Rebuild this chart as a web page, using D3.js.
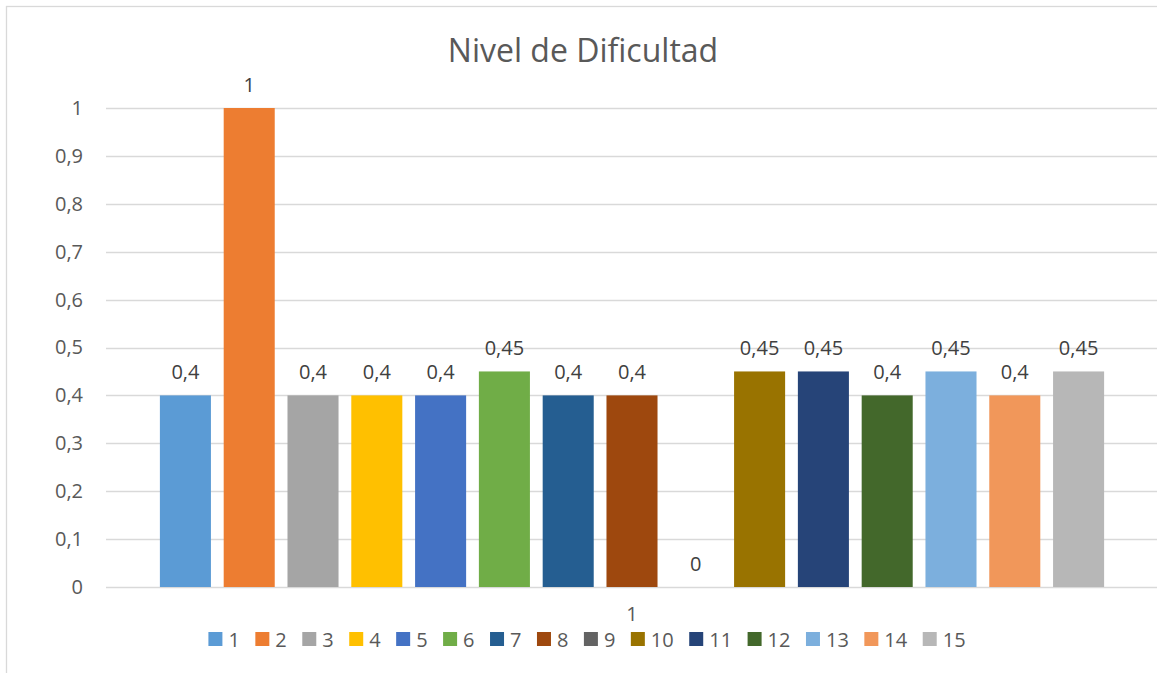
<!DOCTYPE html>
<html>
<head>
<meta charset="UTF-8">
<style>
  * { margin: 0; padding: 0; }
  html, body { width: 1157px; height: 673px; background: #fff; overflow: hidden; }
  svg { display: block; font-family: "Open Sans", "Noto Sans", sans-serif; }
</style>
<script src="https://cdn.jsdelivr.net/npm/d3@7"></script>
</head>
<body>
<svg id="chart" width="1157" height="673"></svg>
<script>
// --- data ---
var title = "Nivel de Dificultad";
var categories = ["1"];
var seriesNames = ["1", "2", "3", "4", "5", "6", "7", "8", "9", "10", "11", "12", "13", "14", "15"];
var seriesValues = [0.4, 1, 0.4, 0.4, 0.4, 0.45, 0.4, 0.4, 0, 0.45, 0.45, 0.4, 0.45, 0.4, 0.45];
var seriesColors = ["#5B9BD5", "#ED7D31", "#A5A5A5", "#FFC000", "#4472C4", "#70AD47", "#255E91",
  "#9E480E", "#636363", "#997300", "#264478", "#43682B", "#7CAFDD", "#F1975A", "#B7B7B7"];
var yTicks = [0, 0.1, 0.2, 0.3, 0.4, 0.5, 0.6, 0.7, 0.8, 0.9, 1];

var svg = d3.select("#chart");
var fmt = function(v) { return String(v).replace(".", ","); };

// chart border (cut by the window on right/bottom)
svg.append("rect")
  .attr("x", 6.5).attr("y", 6.5).attr("width", 1170).attr("height", 700)
  .attr("fill", "#fff").attr("stroke", "#D9D9D9").attr("stroke-width", 1.3);

var plot = { left: 106, right: 1158, top: 108, bottom: 587 };

var y = d3.scaleLinear().domain([0, 1]).range([plot.bottom, plot.top]);
var x0 = d3.scaleBand().domain(categories).range([plot.left, plot.right]).padding(0.0473);
var x1 = d3.scaleBand().domain(seriesNames).range([0, x0.bandwidth()])
  .paddingInner(0.2).paddingOuter(0.1);

// title
svg.append("text")
  .attr("x", 583).attr("y", 62)
  .attr("text-anchor", "middle")
  .attr("font-size", "32px")
  .attr("fill", "#595959")
  .text(title);

// gridlines
svg.append("g").selectAll("line")
  .data(yTicks)
  .enter().append("line")
  .attr("x1", plot.left).attr("x2", plot.right)
  .attr("y1", function(d) { return Math.round(y(d)) + 0.5; })
  .attr("y2", function(d) { return Math.round(y(d)) + 0.5; })
  .attr("stroke", "#D9D9D9")
  .attr("stroke-width", function(d) { return d === 0 ? 1.6 : 1.3; });

// y tick labels
var yAxis = d3.axisLeft(y).tickValues(yTicks).tickSize(0).tickPadding(0).tickFormat(fmt);
var yg = svg.append("g").attr("transform", "translate(83,0)").call(yAxis);
yg.select(".domain").remove();
yg.selectAll("text")
  .attr("font-family", "'Open Sans', sans-serif")
  .attr("font-size", "20px")
  .attr("fill", "#595959");

// bars
var catG = svg.append("g").attr("transform", "translate(" + x0(categories[0]) + ",0)");
var data = seriesNames.map(function(s, i) { return { name: s, value: seriesValues[i], color: seriesColors[i] }; });

catG.selectAll("rect")
  .data(data)
  .enter().append("rect")
  .attr("x", function(d) { return x1(d.name); })
  .attr("y", function(d) { return y(d.value); })
  .attr("width", x1.bandwidth())
  .attr("height", function(d) { return y(0) - y(d.value); })
  .attr("fill", function(d) { return d.color; });

// data labels
catG.selectAll(".lbl")
  .data(data)
  .enter().append("text")
  .attr("class", "lbl")
  .attr("x", function(d) { return x1(d.name) + x1.bandwidth() / 2; })
  .attr("y", function(d) { return y(d.value) - 16; })
  .attr("text-anchor", "middle")
  .attr("font-size", "20px")
  .attr("fill", "#404040")
  .text(function(d) { return fmt(d.value); });

// category axis label
svg.append("g").selectAll("text")
  .data(categories)
  .enter().append("text")
  .attr("x", function(d) { return x0(d) + x0.bandwidth() / 2; })
  .attr("y", 621)
  .attr("text-anchor", "middle")
  .attr("font-size", "20px")
  .attr("fill", "#595959")
  .text(function(d) { return d; });

// legend
var legend = svg.append("g");
var items = legend.selectAll("g")
  .data(data)
  .enter().append("g");
items.append("rect")
  .attr("width", 14).attr("height", 14)
  .attr("y", 632)
  .attr("fill", function(d) { return d.color; });
items.append("text")
  .attr("x", 20).attr("y", 647)
  .attr("font-size", "20px")
  .attr("fill", "#595959")
  .text(function(d) { return d.name; });

var gap = 15.5;
var cx = 0;
items.each(function() {
  var w = this.querySelector("text").getComputedTextLength();
  this._x = cx;
  cx += 20 + w + gap;
});
var total = cx - gap;
var start = 587 - total / 2;
items.attr("transform", function() { return "translate(" + (start + this._x) + ",0)"; });
</script>
</body>
</html>
